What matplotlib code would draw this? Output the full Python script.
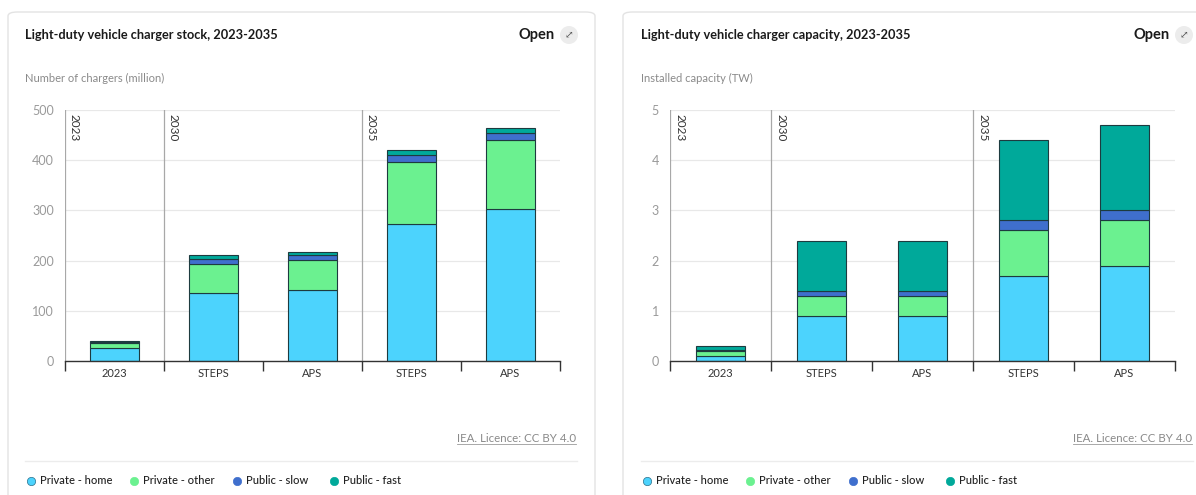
import matplotlib
matplotlib.use("Agg")
import matplotlib.pyplot as plt
from matplotlib.patches import FancyBboxPatch, Ellipse
from matplotlib.lines import Line2D
import numpy as np

plt.rcParams['font.family'] = ['Lato', 'DejaVu Sans']

# ---------------- data ----------------
categories = ["2023", "STEPS", "APS", "STEPS", "APS"]
series_names = ["Private - home", "Private - other", "Public - slow", "Public - fast"]
colors = ["#4cd3fd", "#6bf190", "#3f6fcd", "#00a99a"]

stock_home = [25, 136, 141, 272, 303]
stock_other = [10, 58, 61, 124, 137]
stock_slow = [3, 10, 9, 15, 14]
stock_fast = [2, 7, 7, 10, 10]

cap_home = [0.1, 0.9, 0.9, 1.7, 1.9]
cap_other = [0.1, 0.4, 0.4, 0.9, 0.9]
cap_slow = [0.01, 0.1, 0.1, 0.2, 0.2]
cap_fast = [0.09, 1.0, 1.0, 1.6, 1.7]

year_labels = ["2023", "2030", "2035"]
year_positions = [-0.5, 0.5, 2.5]

stock_ticks = [0, 100, 200, 300, 400, 500]
cap_ticks = [0, 1, 2, 3, 4, 5]

W, H = 1196, 495
fig = plt.figure(figsize=(W / 100, H / 100), dpi=100)
fig.patch.set_facecolor("white")


def fx(px):
    return px / W


def fy(py):
    return 1 - py / H


def card(x0, x1):
    p = FancyBboxPatch((fx(x0), fy(520)), fx(x1) - fx(x0), fy(12) - fy(520),
                       boxstyle="round,pad=0,rounding_size=0.008",
                       transform=fig.transFigure, facecolor="white",
                       edgecolor="#e3e3e3", linewidth=1.0, zorder=0)
    fig.add_artist(p)


card(8, 595)
card(623, 1230)


def panel(x0, x1, title, ytitle, stacks, ticks, ymax, ox, lic_right, open_x):
    ax = fig.add_axes([fx(x0), fy(361), fx(x1) - fx(x0), fy(110) - fy(361)])
    x = np.arange(len(categories))
    bottom = np.zeros(len(categories))
    for vals, c, name in zip(stacks, colors, series_names):
        ax.bar(x, vals, width=0.49, bottom=bottom, color=c, edgecolor="#1d3b3f",
               linewidth=0.8, zorder=3, label=name)
        bottom = bottom + np.array(vals)
    ax.set_xlim(-0.5, len(categories) - 0.5)
    ax.set_ylim(0, ymax)
    ax.set_yticks(ticks)
    ax.set_yticklabels([str(t) for t in ticks], color="#9a9a9a", fontsize=9)
    ax.tick_params(axis="y", length=0, pad=8)
    ax.set_xticks(x)
    ax.set_xticklabels(categories, color="#333333", fontsize=8)
    ax.tick_params(axis="x", length=0, pad=5)
    ax.set_xticks(np.arange(-0.5, len(categories)), minor=True)
    ax.tick_params(axis="x", which="minor", length=7, width=1, color="#333333", direction="out")
    for s in ["top", "right", "left"]:
        ax.spines[s].set_visible(False)
    ax.spines["bottom"].set_color("#333333")
    ax.spines["bottom"].set_linewidth(1.0)
    ax.spines["bottom"].set_zorder(5)
    ax.grid(axis="y", color="#e8e8e8", linewidth=0.9, zorder=0)
    ax.set_axisbelow(True)
    for xp, lab in zip(year_positions, year_labels):
        ax.axvline(xp, color="#a8a8a8", linewidth=0.9, zorder=2)
        ax.text(xp + 0.04, ymax * 0.985, lab, rotation=270, va="top", ha="left",
                fontsize=8.5, color="#333333")
    ax.set_facecolor("none")

    # header
    fig.text(fx(ox + 17), fy(35), title, fontsize=9.2, fontweight="bold",
             color="#1a1a1a", va="center", ha="left")
    fig.text(fx(ox + 17), fy(78), ytitle, fontsize=8, color="#8a8a8a",
             va="center", ha="left")
    fig.text(fx(open_x), fy(35), "Open", fontsize=10.5, fontweight="bold",
             color="#1a1a1a", va="center", ha="right")
    cx = open_x + 14
    circ = Ellipse((fx(cx), fy(35)), width=fx(18), height=18 / H, transform=fig.transFigure,
                   facecolor="#ececec", edgecolor="none")
    fig.add_artist(circ)
    fig.text(fx(cx), fy(35), "\u2922", fontsize=7.5, color="#555555",
             va="center", ha="center",
             family=["DejaVu Sans", "DejaVu Sans Mono", "DejaVu Serif", "Noto Sans",
                     "Noto Sans CJK SC", "Liberation Sans"])

    # licence
    t = fig.text(fx(lic_right), fy(438), "IEA. Licence: CC BY 4.0", fontsize=8.3,
                 color="#8a8a8a", va="center", ha="right")
    fig.canvas.draw()
    bb = t.get_window_extent()
    fig.add_artist(Line2D([bb.x0 / W, bb.x1 / W], [fy(444), fy(444)],
                          transform=fig.transFigure, color="#9a9a9a", linewidth=0.6))
    # separator
    fig.add_artist(Line2D([fx(ox + 17), fx(lic_right + 1)], [fy(461), fy(461)],
                          transform=fig.transFigure, color="#ececec", linewidth=1.0))
    # legend
    mx = [ox + 23, ox + 126, ox + 229, ox + 326]
    for m, c, name in zip(mx, colors, series_names):
        fig.add_artist(Line2D([fx(m)], [fy(481)], marker="o", markersize=6,
                              markerfacecolor=c, markeredgecolor="#2b6f8a" if c == colors[0] else c,
                              markeredgewidth=0.5, transform=fig.transFigure, linestyle="none"))
        fig.text(fx(m + 9), fy(481), name, fontsize=8, color="#222222",
                 va="center", ha="left", fontweight="medium")
    return ax


panel(65, 560, "Light-duty vehicle charger stock, 2023-2035",
      "Number of chargers (million)",
      [stock_home, stock_other, stock_slow, stock_fast], stock_ticks, 500,
      ox=8, lic_right=576, open_x=555)
panel(670, 1175, "Light-duty vehicle charger capacity, 2023-2035",
      "Installed capacity (TW)",
      [cap_home, cap_other, cap_slow, cap_fast], cap_ticks, 5,
      ox=624, lic_right=1192, open_x=1170)

fig.savefig("out.png", dpi=100, facecolor="white")
